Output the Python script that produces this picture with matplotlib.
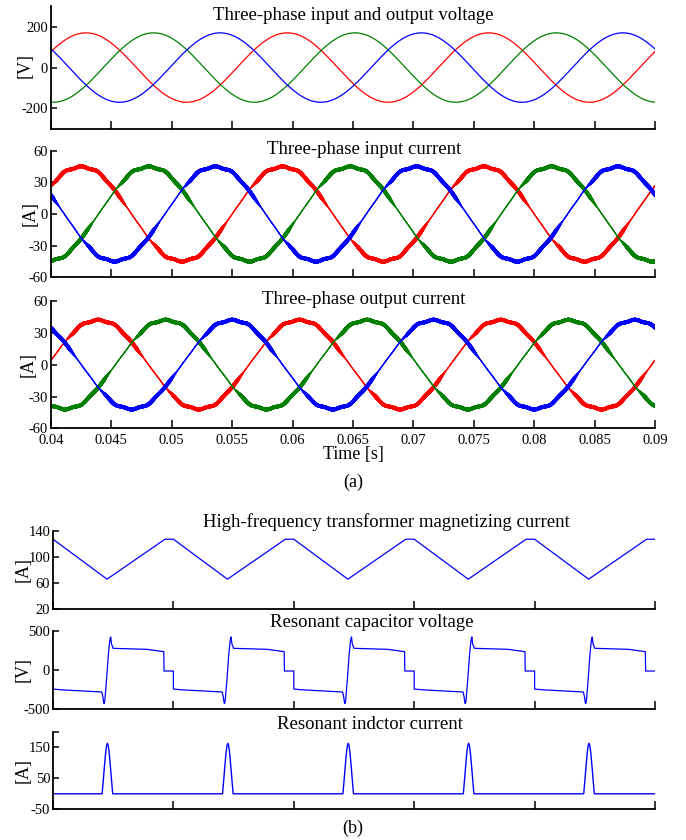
import numpy as np
import matplotlib
matplotlib.use("Agg")
import matplotlib.pyplot as plt
from matplotlib.collections import LineCollection

plt.rcParams['font.family'] = ['Liberation Serif', 'DejaVu Serif']
plt.rcParams['axes.unicode_minus'] = False

# ---- data -------------------------------------------------------------
FREQ = 60.0                      # Hz, fundamental
T_START, T_END = 0.04, 0.09      # s
PHASE_COLORS = ['#ff0000', '#008000', '#0000ff']

# three-phase voltage: amplitude [V] and time of each phase's crest [s]
V_AMP = 170.0
V_PEAK_T = [0.0429, 0.0485, 0.0540]

# input current [A]
I_IN_AMP = 45.0
I_IN_PEAK_T = [0.0425, 0.0481, 0.0536]

# output current [A]
I_OUT_AMP = 42.0
I_OUT_PEAK_T = [0.0439, 0.0495, 0.0550]

# low-order distortion on the currents (order, fraction of fundamental)
HARM_ORDER = [5, 7, 11, 13]
HARM_FRAC = [-0.008, -0.004, 0.009, 0.008]

X_TICKS = [0.04, 0.045, 0.05, 0.055, 0.06, 0.065, 0.07, 0.075, 0.08, 0.085, 0.09]
X_TICK_LABELS = ['0.04', '0.045', '0.05', '0.055', '0.06', '0.065',
                 '0.07', '0.075', '0.08', '0.085', '0.09']

# (b) switching-period waveforms, one period = 1 unit, 5 periods shown
N_PERIODS = 5
MAG_T = [0.0, 0.449, 0.93, 1.0]
MAG_I = [127, 66, 127, 127]

CAP_T = [0.0, 0.0, 0.07, 0.405, 0.414, 0.420, 0.424, 0.430, 0.445, 0.460,
         0.472, 0.479, 0.486, 0.50, 0.78, 0.92, 0.922, 1.0]
CAP_V = [-15, -245, -255, -283, -340, -410, -430, -400, -120, 200,
         380, 420, 330, 275, 262, 232, -15, -15]

IND_T = [0.0, 0.408, 0.418, 0.428, 0.438, 0.445, 0.452, 0.459, 0.466,
         0.476, 0.486, 0.496, 1.0]
IND_I = [0, 0, 45, 92, 135, 155, 163, 155, 135, 92, 45, 0, 0]


# ---- helpers ----------------------------------------------------------
W, H = 686, 840


def add_axes_px(fig, left, top, right, bottom):
    return fig.add_axes([left / W, 1 - bottom / H, (right - left) / W, (bottom - top) / H])


def style_axes(ax):
    for s in ['top', 'right']:
        ax.spines[s].set_visible(False)
    for s in ['left', 'bottom']:
        ax.spines[s].set_linewidth(1.3)
    ax.tick_params(axis='x', direction='in', length=6, width=1.1, pad=4, labelsize=10.5)
    ax.tick_params(axis='y', direction='in', length=4, width=1.1, pad=2, labelsize=10.5)


def phase_current(t, amp, peak_t):
    theta = 2 * np.pi * FREQ * (t - peak_t)
    i = np.cos(theta)
    for n, a in zip(HARM_ORDER, HARM_FRAC):
        i = i + a * np.cos(n * theta)
    return amp * i, theta


def thick_line(ax, t, y, theta, color):
    # trace gets heavier around the crests where switching ripple is large
    pts = np.column_stack([t, y])
    segs = np.stack([pts[:-1], pts[1:]], axis=1)
    w = np.abs(np.cos(theta[:-1] - np.radians(12)))
    lw = 0.8 + 1.9 * np.clip((w - 0.35) / 0.2, 0, 1)
    ax.add_collection(LineCollection(segs, colors=color, linewidths=lw, capstyle='round'))


def tile(frac_t, vals):
    tt, vv = [], []
    for k in range(N_PERIODS):
        tt += [k + f for f in frac_t]
        vv += list(vals)
    return np.array(tt), np.array(vv)


# ---- figure -----------------------------------------------------------
fig = plt.figure(figsize=(6.86, 8.4), dpi=100)
t = np.linspace(T_START, T_END, 6001)

# voltage
ax1 = add_axes_px(fig, 51, 6.3, 655, 128.8)
for pk, c in zip(V_PEAK_T, PHASE_COLORS):
    ax1.plot(t, V_AMP * np.cos(2 * np.pi * FREQ * (t - pk)), color=c, lw=0.9)
ax1.set_ylim(-300, 300)
ax1.set_yticks([-200, 0, 200])
ax1.set_ylabel('[V]', fontsize=13)
ax1.yaxis.set_label_coords(-0.028, 0.52)
ax1.text(0.5, 0.888, 'Three-phase input and output voltage', transform=ax1.transAxes,
         ha='center', va='baseline', fontsize=13.5)

# input current
ax2 = add_axes_px(fig, 51, 150.7, 655, 277.3)
for pk, c in zip(I_IN_PEAK_T, PHASE_COLORS):
    i, th = phase_current(t, I_IN_AMP, pk)
    thick_line(ax2, t, i, th, c)
ax2.set_ylim(-60, 60)
ax2.set_yticks([-60, -30, 0, 30, 60])
ax2.set_ylabel('[A]', fontsize=13)
ax2.yaxis.set_label_coords(-0.020, 0.5)
ax2.text(0.518, 0.974, 'Three-phase input current', transform=ax2.transAxes,
         ha='center', va='baseline', fontsize=13.5)

# output current
ax3 = add_axes_px(fig, 51, 300.7, 655, 428.5)
for pk, c in zip(I_OUT_PEAK_T, PHASE_COLORS):
    i, th = phase_current(t, I_OUT_AMP, pk)
    thick_line(ax3, t, i, th, c)
ax3.set_ylim(-60, 60)
ax3.set_yticks([-60, -30, 0, 30, 60])
ax3.set_ylabel('[A]', fontsize=13)
ax3.yaxis.set_label_coords(-0.023, 0.5)
ax3.text(0.518, 0.974, 'Three-phase output current', transform=ax3.transAxes,
         ha='center', va='baseline', fontsize=13.5)
ax3.set_xlabel('Time [s]', fontsize=13, labelpad=-1)

for ax in (ax1, ax2, ax3):
    style_axes(ax)
    ax.set_xlim(T_START, T_END)
    ax.set_xticks(X_TICKS)
    ax.set_xticklabels(X_TICK_LABELS if ax is ax3 else [])

fig.text(353 / W, 1 - 482 / H, '(a)', ha='center', va='center', fontsize=13)

# magnetizing current
ax4 = add_axes_px(fig, 53, 530.7, 655, 609.3)
tm, im = tile(MAG_T, MAG_I)
ax4.plot(tm, im, color='#0000ff', lw=0.9)
ax4.set_ylim(20, 140)
ax4.set_yticks([20, 60, 100, 140])
ax4.set_ylabel('[A]', fontsize=13)
ax4.text(0.553, 1.045, 'High-frequency transformer magnetizing current', transform=ax4.transAxes,
         ha='center', va='baseline', fontsize=13.5)

# resonant capacitor voltage
ax5 = add_axes_px(fig, 53, 630.7, 655, 709)
tc, vc = tile(CAP_T, CAP_V)
ax5.plot(tc, vc, color='#0000ff', lw=0.9)
ax5.set_ylim(-500, 500)
ax5.set_yticks([-500, 0, 500])
ax5.set_ylabel('[V]', fontsize=13)
ax5.text(0.530, 1.045, 'Resonant capacitor voltage', transform=ax5.transAxes,
         ha='center', va='baseline', fontsize=13.5)

# resonant inductor current
ax6 = add_axes_px(fig, 53, 731.8, 655, 809.3)
tl, il = tile(IND_T, IND_I)
ax6.plot(tl, il, color='#0000ff', lw=1.0)
ax6.set_ylim(-50, 200)
ax6.set_yticks([-50, 50, 150, 200])
ax6.set_yticklabels(['-50', '50', '150', ''])
ax6.set_ylabel('[A]', fontsize=13)
ax6.text(0.526, 1.036, 'Resonant indctor current', transform=ax6.transAxes,
         ha='center', va='baseline', fontsize=13.5)

for ax in (ax4, ax5, ax6):
    style_axes(ax)
    ax.set_xlim(0, N_PERIODS)
    ax.set_xticks(range(N_PERIODS + 1))
    ax.set_xticklabels([])
    ax.yaxis.set_label_coords(-0.035, 0.5)

fig.text(353 / W, 1 - 828 / H, '(b)', ha='center', va='center', fontsize=13)

fig.savefig('out.png', dpi=100)
